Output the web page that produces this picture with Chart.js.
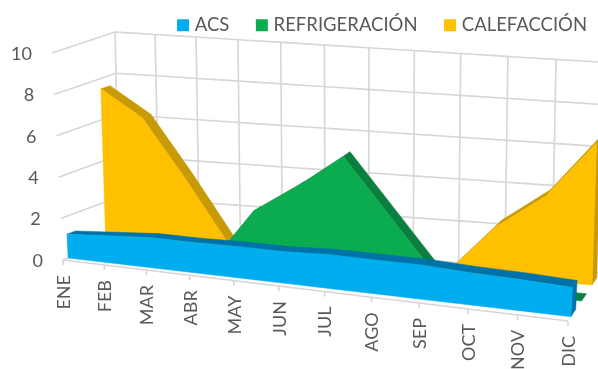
<!DOCTYPE html>
<html lang="es">
<head>
<meta charset="utf-8">
<title>Demanda mensual</title>
<script src="https://cdn.jsdelivr.net/npm/chart.js@4"></script>
<style>
  html, body { margin: 0; padding: 0; background: #fff; overflow: hidden; }
  canvas { display: block; filter: blur(0.6px); }
</style>
</head>
<body>
<canvas id="chart" width="598" height="369"></canvas>
<script>
const months = ['ENE', 'FEB', 'MAR', 'ABR', 'MAY', 'JUN', 'JUL', 'AGO', 'SEP', 'OCT', 'NOV', 'DIC'];
const acs = [1.15, 1.3, 1.45, 1.45, 1.5, 1.5, 1.6, 1.6, 1.6, 1.5, 1.45, 1.35];
const refrigeracion = [0, 0, 0, 0, 2.7, 4.1, 5.7, 3.1, 0.5, 0, 0, 0];
const calefaccion = [7.5, 6.25, 3.5, 0.55, 0, 0, 0, 0, 0.1, 2.4, 4.0, 6.7];

// corners of the 3D box, [x, y] on the page
const box = {
  frontFloor: [[63, 260], [568, 321]],
  frontTop: [[52, 53], [580, 105]],
  backFloor: [[120, 238], [600, 273]],
  backTop: [[115, 32], [605, 62.5]]
};
const perspective = 0.11;
const gridColor = '#d6d6d6';
const textColor = '#595959';

const lerp = (a, b, t) => a + (b - a) * t;

// s, v, w all 0..1: along the months, up the values, front to back
function project(s, v, w) {
  const sp = s * (1 - perspective * (1 - s));
  return [0, 1].map(k => {
    const floor = lerp(lerp(box.frontFloor[0][k], box.frontFloor[1][k], sp), lerp(box.backFloor[0][k], box.backFloor[1][k], sp), w);
    const top = lerp(lerp(box.frontTop[0][k], box.frontTop[1][k], sp), lerp(box.backTop[0][k], box.backTop[1][k], sp), w);
    return lerp(floor, top, v);
  });
}

function poly(ctx, pts, color) {
  ctx.beginPath();
  pts.forEach((p, i) => (i ? ctx.lineTo(p[0], p[1]) : ctx.moveTo(p[0], p[1])));
  ctx.closePath();
  ctx.fillStyle = color;
  ctx.strokeStyle = color;
  ctx.lineWidth = 0.5;
  ctx.fill();
  ctx.stroke();
}

function line(ctx, a, b) {
  ctx.beginPath();
  ctx.moveTo(a[0], a[1]);
  ctx.lineTo(b[0], b[1]);
  ctx.stroke();
}

const box3d = {
  id: 'box3d',
  afterLayout(chart) {
    // legend sits above the box, flush with the right of the picture
    chart.legend.top = -14;
    chart.legend.right = 617;
  },
  beforeDatasetDraw() {
    return false; // the rows are drawn below, projected
  },
  afterDatasetsDraw(chart) {
    const { ctx, scales: { x, y } } = chart;
    const toS = i => (x.getPixelForValue(i) - x.left) / x.width;
    const toV = val => (y.bottom - y.getPixelForValue(val)) / y.height;

    ctx.save();
    // walls
    ctx.strokeStyle = gridColor;
    ctx.lineWidth = 1.6;
    y.ticks.forEach(t => {
      const v = toV(t.value);
      line(ctx, project(0, v, 0), project(0, v, 1));
      const steps = 20;
      for (let i = 0; i < steps; i++) line(ctx, project(i / steps, v, 1), project((i + 1) / steps, v, 1));
    });
    x.ticks.forEach((t, i) => {
      line(ctx, project(toS(i), 0, 1), project(toS(i), 1, 1));
    });

    // front floor edge and ticks
    line(ctx, project(0, 0, 0), project(1, 0, 0));
    x.ticks.forEach((t, i) => {
      const p = project(toS(i), 0, 0);
      line(ctx, p, [p[0], p[1] + 5]);
    });

    // rows, back to front
    [...chart.data.datasets].reverse().forEach(ds => {
      const [w0, w1] = ds.band;
      const front = ds.data.map((val, i) => project(toS(i), toV(val), w0));
      const back = ds.data.map((val, i) => project(toS(i), toV(val), w1));
      const last = ds.data.length - 1;
      for (let i = 0; i < last; i++) {
        poly(ctx, [front[i], front[i + 1], back[i + 1], back[i]], ds.sideColor);
      }
      poly(ctx, [front[last], back[last], project(1, 0, w1), project(1, 0, w0)], ds.sideColor);
      poly(ctx, [project(0, 0, w0), ...front, project(1, 0, w0)], ds.backgroundColor);
    });

    // tick labels
    ctx.fillStyle = textColor;
    ctx.font = '18px Lato';
    ctx.textAlign = 'right';
    ctx.textBaseline = 'middle';
    y.ticks.forEach(t => {
      const p = project(0, toV(t.value), 0);
      ctx.fillText(t.label, p[0] - 20, p[1] + 1);
    });
    x.ticks.forEach((t, i) => {
      const p = project(toS(i), 0, 0);
      ctx.save();
      ctx.translate(p[0] + 1, p[1] + 15);
      ctx.rotate(-Math.PI / 2);
      ctx.fillText(x.getLabelForValue(i), 0, 0);
      ctx.restore();
    });
    ctx.restore();
  }
};

new Chart(document.getElementById('chart'), {
  type: 'line',
  data: {
    labels: months,
    datasets: [
      { label: 'ACS', data: acs, backgroundColor: '#00aeef', sideColor: '#0072a8', band: [0.09, 0.24], borderWidth: 0, pointRadius: 0 },
      { label: 'REFRIGERACIÓN', data: refrigeracion, backgroundColor: '#0bab4f', sideColor: '#0b7f3e', band: [0.42, 0.57], borderWidth: 0, pointRadius: 0 },
      { label: 'CALEFACCIÓN', data: calefaccion, backgroundColor: '#ffc000', sideColor: '#c99a08', band: [0.75, 0.9], borderWidth: 0, pointRadius: 0 }
    ]
  },
  options: {
    responsive: false,
    animation: false,
    scales: {
      x: { display: false, offset: false },
      y: { display: false, min: 0, max: 10, ticks: { stepSize: 2 } }
    },
    plugins: {
      tooltip: { enabled: false },
      legend: {
        position: 'top',
        align: 'end',
        labels: {
          usePointStyle: true,
          pointStyle: 'rect',
          boxWidth: 5,
          boxHeight: 12,
          padding: 30,
          color: textColor,
          font: { family: 'Lato', size: 18.5 }
        }
      }
    }
  },
  plugins: [box3d]
});
</script>
</body>
</html>
